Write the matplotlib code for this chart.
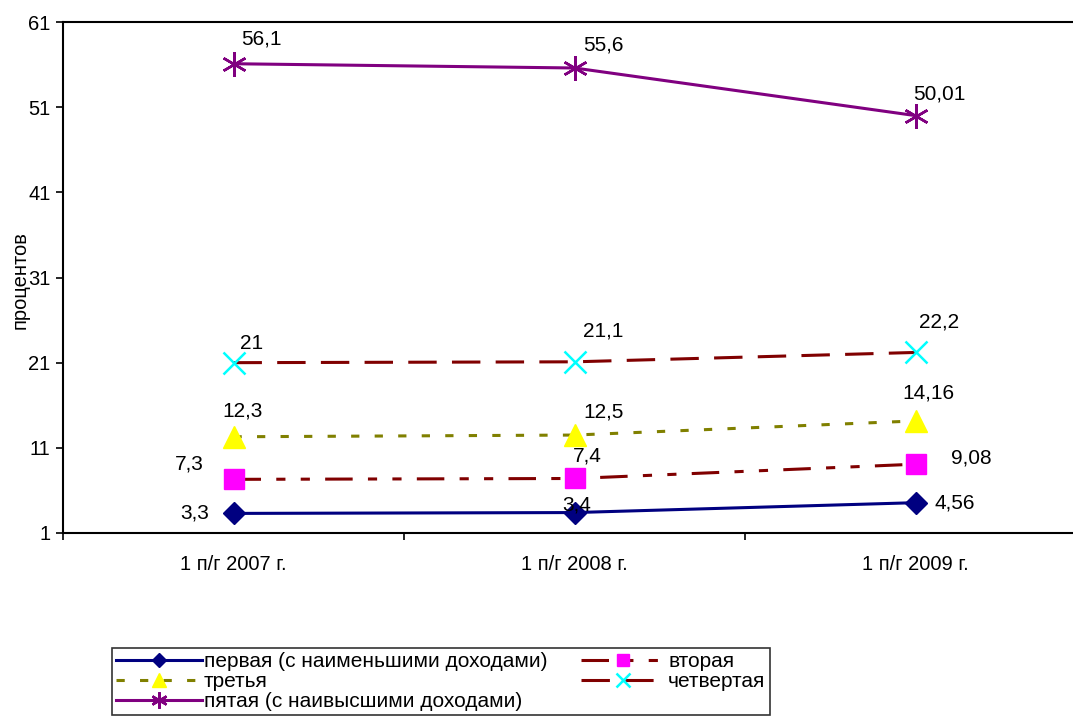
import matplotlib
matplotlib.use("Agg")
import matplotlib.pyplot as plt

plt.rcParams['font.family'] = ['Liberation Sans', 'DejaVu Sans']

categories = ["1 п/г 2007 г.", "1 п/г 2008 г.", "1 п/г 2009 г."]
names = ["первая (с наименьшими доходами)", "вторая", "третья",
         "четвертая", "пятая (с наивысшими доходами)"]
first = [3.3, 3.4, 4.56]
second = [7.3, 7.4, 9.08]
third = [12.3, 12.5, 14.16]
fourth = [21, 21.1, 22.2]
fifth = [56.1, 55.6, 50.01]
series = [first, second, third, fourth, fifth]
yticks = [1, 11, 21, 31, 41, 51, 61]

# styles: color, linestyle, marker, marker face, marker size
styles = [
    dict(color='#000080', ls='-', marker='D', mfc='#000080', mec='#000080', ms=11),
    dict(color='#800000', ls=(0, (9, 5, 3, 5, 3, 5)), marker='s', mfc='#ff00ff', mec='#ff00ff', ms=14),
    dict(color='#808000', ls=(0, (2.7, 5)), marker='^', mfc='#ffff00', mec='#ffff00', ms=16),
    dict(color='#800000', ls=(0, (9.3, 5)), marker='x', mfc='#00ffff', mec='#00ffff', ms=16),
    dict(color='#800080', ls='-', marker=(6, 2, 0), mfc='#800080', mec='#800080', ms=18),
]
# label offsets in pixels (dx, dy)
offsets = [
    [(-39, 0), (2, 8), (39, 0)],
    [(-44, 15), (13, 22), (56, 6)],
    [(9, 26), (29, 23), (13, 28)],
    [(18, 19), (29, 31), (24, 30)],
    [(28, 25), (29, 23), (24, 22)],
]

fig = plt.figure(figsize=(10.73, 7.17), dpi=100)
ax = fig.add_axes([63/1073, 1-533/717, 1023/1073, 511/717])

x = range(len(categories))
lines = []
for vals, st, name, offs in zip(series, styles, names, offsets):
    ln, = ax.plot(x, vals, color=st['color'], ls=st['ls'], lw=2.2,
                  marker=st['marker'], markerfacecolor=st['mfc'],
                  markeredgecolor=st['mec'], markersize=st['ms'],
                  markeredgewidth=1.8 if st['marker'] in ('x', (6, 2, 0)) else 1,
                  label=name, zorder=3)
    lines.append(ln)
    for xi, v, (dx, dy) in zip(x, vals, offs):
        ax.annotate('{:g}'.format(v).replace('.', ','), (xi, v),
                    xytext=(dx, dy), textcoords='offset pixels',
                    ha='center', va='center', fontsize=15)

ax.set_xlim(-0.5, 2.5)
ax.set_ylim(1, 61)
ax.set_yticks(yticks)
ax.set_xticks([-0.5, 0.5, 1.5, 2.5])
ax.set_xticklabels([])
ax.set_xticks(list(x), minor=True)
ax.set_xticklabels(categories, minor=True)
ax.tick_params(axis='x', which='minor', length=0, pad=16, labelsize=14.5)
ax.tick_params(axis='x', which='major', length=5, width=1.2, direction='out')
ax.tick_params(axis='y', length=5, width=1.2, direction='out', labelsize=14.5, pad=4)
for s in ax.spines.values():
    s.set_linewidth(1.5)
ax.spines['right'].set_visible(False)

fig.text(20/1073, 1-280/717, "процентов", rotation=90, ha='center', va='center', fontsize=14.5)

order = [0, 2, 4, 1, 3]
leg = fig.legend([lines[i] for i in order], [names[i] for i in order],
                 loc='upper left', bbox_to_anchor=(112/1073, 1-648/717),
                 ncol=2, fontsize=15, frameon=True, fancybox=False,
                 edgecolor='black', handlelength=4.1, handletextpad=0.1,
                 labelspacing=0.05, columnspacing=1.6, borderpad=0.2,
                 borderaxespad=0, markerscale=0.65)
leg.get_frame().set_linewidth(1.2)

fig.savefig("out.png", dpi=100)
